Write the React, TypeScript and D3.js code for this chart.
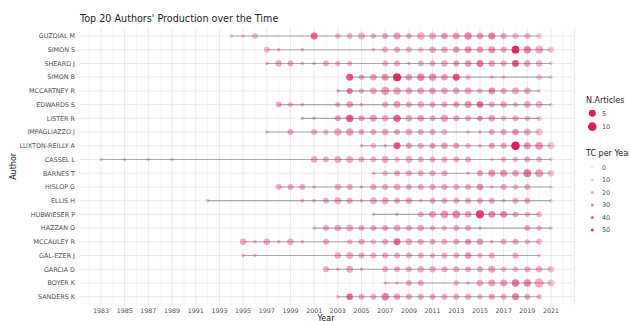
import React from "react";
import * as d3 from "d3";

// [year, articles, total citations per year]
type Rec = [number, number, number];

const authors = [
  "GUZDIAL M", "SIMON S", "SHEARD J", "SIMON B", "MCCARTNEY R", "EDWARDS S",
  "LISTER R", "IMPAGLIAZZO J", "LUXTON-REILLY A", "CASSEL L", "BARNES T",
  "HISLOP G", "ELLIS H", "HUBWIESER P", "HAZZAN O", "MCCAULEY R",
  "GAL-EZER J", "GARCIA D", "BOYER K", "SANDERS K",
];

const guzdialM: Rec[] = [[1994,1,11],[1995,1,11],[1996,3,11],[2001,5,35],[2003,2,14],[2004,3,14],[2005,5,14],[2006,2,14],[2007,3,17],[2008,5,21],[2009,2,17],[2010,6,17],[2011,5,17],[2012,4,20],[2013,5,20],[2014,6,26],[2015,4,21],[2016,5,28],[2017,3,17],[2018,3,14],[2019,3,14],[2020,3,7]];
const simonS: Rec[] = [[1997,3,14],[1998,1,14],[2000,1,14],[2006,1,14],[2007,3,14],[2008,3,17],[2009,3,14],[2010,2,11],[2011,4,17],[2012,4,17],[2013,4,20],[2014,5,23],[2015,4,20],[2016,5,23],[2017,3,17],[2018,7,54],[2019,6,28],[2020,8,17],[2021,4,8]];
const sheardJ: Rec[] = [[1997,1,14],[1998,4,17],[1999,3,17],[2000,1,14],[2001,1,14],[2002,3,17],[2003,2,14],[2004,2,14],[2007,3,14],[2008,3,17],[2009,1,14],[2010,3,17],[2011,3,17],[2012,4,17],[2013,3,20],[2014,4,23],[2015,5,31],[2016,4,20],[2017,3,17],[2018,5,40],[2019,4,20],[2020,4,14],[2021,1,8]];
const simonB: Rec[] = [[2004,5,40],[2005,2,20],[2006,4,20],[2007,5,23],[2008,8,52],[2009,4,20],[2010,6,28],[2011,6,23],[2012,4,20],[2013,5,42],[2014,2,11],[2016,1,11],[2017,1,11],[2020,2,11],[2021,1,8]];
const mccartneyR: Rec[] = [[2003,1,14],[2004,3,31],[2005,2,14],[2006,4,17],[2007,8,20],[2008,6,20],[2009,4,17],[2010,4,17],[2011,4,20],[2012,4,17],[2013,4,17],[2014,5,17],[2015,2,14],[2016,4,26],[2017,3,17],[2018,5,17],[2019,4,17],[2020,1,11]];
const edwardsS: Rec[] = [[1998,3,17],[1999,2,14],[2000,1,14],[2003,2,17],[2004,4,20],[2005,1,14],[2007,3,17],[2008,5,20],[2009,3,17],[2010,4,17],[2011,3,17],[2012,3,17],[2013,3,20],[2014,5,23],[2015,4,34],[2016,3,17],[2017,4,17],[2018,2,14],[2019,5,17],[2020,5,14],[2021,1,8]];
const listerR: Rec[] = [[2000,1,14],[2001,1,14],[2003,3,20],[2004,6,40],[2005,3,20],[2006,5,20],[2007,4,17],[2008,6,37],[2009,4,17],[2010,4,20],[2011,3,17],[2012,6,20],[2013,3,17],[2014,3,17],[2015,2,26],[2016,4,20],[2017,2,14],[2018,3,17],[2019,2,14],[2020,2,11]];
const impagliazzoJ: Rec[] = [[1997,1,14],[1999,3,17],[2001,3,17],[2002,2,14],[2003,6,17],[2004,6,20],[2005,3,17],[2006,3,17],[2007,4,17],[2008,3,17],[2009,4,17],[2010,3,17],[2011,3,17],[2012,3,14],[2014,1,14],[2015,1,14],[2016,3,17],[2017,3,17],[2018,4,23],[2019,5,17],[2020,5,11]];
const luxtonReillyA: Rec[] = [[2005,1,14],[2006,2,14],[2007,1,14],[2008,5,40],[2009,3,20],[2010,3,17],[2011,3,20],[2012,4,20],[2013,3,20],[2014,2,14],[2015,1,14],[2016,3,20],[2017,3,17],[2018,10,56],[2019,5,23],[2020,7,23],[2021,5,11]];
const casselL: Rec[] = [[1983,1,11],[1985,1,11],[1987,1,11],[1989,1,11],[2001,4,17],[2002,3,17],[2003,5,17],[2004,5,17],[2005,3,17],[2006,3,17],[2007,5,17],[2008,2,14],[2009,5,17],[2010,3,17],[2011,3,17],[2012,3,17],[2013,3,17],[2014,3,17],[2016,1,11],[2017,2,14],[2018,2,14],[2019,3,17],[2020,3,14],[2021,1,8]];
const barnesT: Rec[] = [[2006,1,14],[2007,2,14],[2008,3,17],[2009,3,17],[2010,3,17],[2011,3,17],[2012,3,17],[2014,1,14],[2015,3,20],[2016,5,23],[2017,5,23],[2018,4,20],[2019,7,31],[2020,8,20],[2021,4,11]];
const hislopG: Rec[] = [[1998,3,17],[1999,3,17],[2000,3,17],[2001,1,14],[2003,4,17],[2004,3,17],[2005,1,14],[2006,3,17],[2007,3,17],[2008,4,17],[2009,3,17],[2010,3,17],[2011,3,17],[2012,3,17],[2013,3,17],[2014,3,17],[2015,4,23],[2016,1,14],[2017,3,17],[2018,2,14],[2019,3,17],[2021,1,8]];
const ellisH: Rec[] = [[1992,1,11],[2000,1,14],[2001,1,14],[2002,3,17],[2003,5,17],[2004,3,17],[2005,1,14],[2006,5,17],[2007,5,17],[2008,3,17],[2009,4,17],[2010,1,14],[2011,3,17],[2012,3,17],[2013,3,17],[2014,3,17],[2015,3,17],[2016,3,17],[2017,1,14],[2018,3,17],[2019,3,17],[2021,1,8]];
const hubwieserP: Rec[] = [[2006,1,14],[2008,1,14],[2010,3,17],[2011,5,20],[2012,7,23],[2013,7,26],[2014,4,20],[2015,8,48],[2016,5,26],[2017,5,26],[2018,3,17],[2019,2,14],[2020,3,14]];
const hazzanO: Rec[] = [[2001,1,14],[2002,3,17],[2003,4,17],[2004,5,17],[2005,3,17],[2006,3,17],[2007,3,17],[2008,4,17],[2009,3,17],[2010,4,17],[2011,2,14],[2012,2,14],[2013,3,17],[2014,3,17],[2015,1,14],[2019,3,17],[2020,2,14],[2021,1,11]];
const mccauleyR: Rec[] = [[1995,4,17],[1996,1,14],[1997,4,17],[1998,1,14],[1999,4,17],[2000,1,14],[2002,3,17],[2004,2,14],[2005,3,17],[2006,2,14],[2007,3,17],[2008,5,34],[2009,4,17],[2010,3,17],[2011,3,17],[2012,3,17],[2013,3,17],[2014,3,23],[2015,4,20],[2016,1,14],[2017,3,17],[2018,3,17],[2019,2,14],[2020,3,14]];
const galEzerJ: Rec[] = [[1995,1,14],[1996,1,14],[2003,4,17],[2004,5,17],[2005,3,17],[2006,3,17],[2007,3,17],[2008,3,17],[2009,3,17],[2010,3,17],[2011,2,14],[2012,3,17],[2013,3,17],[2014,4,23],[2015,2,14],[2016,3,17],[2018,3,17],[2020,1,11]];
const garciaD: Rec[] = [[2002,3,17],[2003,1,14],[2004,5,17],[2005,1,14],[2007,3,17],[2008,3,17],[2009,3,17],[2010,4,17],[2011,4,17],[2012,3,17],[2013,3,17],[2014,3,17],[2015,3,17],[2016,5,20],[2017,2,14],[2018,2,14],[2019,3,17],[2020,4,17],[2021,4,11]];
const boyerK: Rec[] = [[2007,1,14],[2008,1,14],[2009,3,17],[2010,3,17],[2013,2,14],[2014,1,14],[2015,4,17],[2016,5,20],[2017,5,20],[2018,6,31],[2019,6,26],[2020,12,17],[2021,5,11]];
const sandersK: Rec[] = [[2003,1,14],[2004,4,34],[2005,3,17],[2006,3,17],[2007,6,28],[2008,4,20],[2009,3,17],[2010,3,17],[2011,3,17],[2012,3,17],[2013,3,17],[2014,3,17],[2015,2,14],[2016,3,20],[2017,3,17],[2018,5,28],[2019,3,17],[2020,2,14]];

const production: Rec[][] = [
  guzdialM, simonS, sheardJ, simonB, mccartneyR, edwardsS, listerR,
  impagliazzoJ, luxtonReillyA, casselL, barnesT, hislopG, ellisH,
  hubwieserP, hazzanO, mccauleyR, galEzerJ, garciaD, boyerK, sandersK,
];

const yearTicks = d3.range(1983, 2022, 2);
const articleBreaks = [5, 10];
const tcBreaks = [0, 10, 20, 30, 40, 50];

const W = 629;
const H = 321;
const FONT = "DejaVu Sans, Verdana, sans-serif";
const RED = "#E01F55";
const TXT = "#4d4d4d";

export default function App() {
  const x = d3.scaleLinear().domain([1981.1, 2022.9]).range([78.5, 573.5]);
  const y = d3.scalePoint<string>().domain(authors).range([36, 296.7]);
  const maxN = d3.max(production.flat(), (d) => d[1]) as number;
  const r = (n: number) => 1.8 + 2.8 * Math.sqrt(Math.max(0, n - 1) / (maxN - 1));
  const alpha = d3.scaleLinear().domain([0, 56]).range([0.1, 1]).clamp(true);
  const line = d3.line<Rec>().x((d) => x(d[0])).y(0);

  const panelTop = 27.8;
  const panelBottom = 305;
  const gridYears = d3.range(1982, 2024);

  return (
    <svg width={W} height={H} style={{ position: "absolute", left: 0, top: 0, background: "#fff" }} fontFamily={FONT}>
      {/* panel grid */}
      {gridYears.map((yr) => (
        <line key={"gx" + yr} x1={x(yr)} x2={x(yr)} y1={panelTop} y2={panelBottom}
          stroke={yr % 2 === 1 ? "#e6e6e6" : "#efefef"} strokeWidth={yr % 2 === 1 ? 0.8 : 0.5} />
      ))}
      {authors.map((a) => (
        <line key={"gy" + a} x1={78.5} x2={573.5} y1={y(a)} y2={y(a)} stroke="#e6e6e6" strokeWidth={0.8} />
      ))}

      {/* activity span per author */}
      {production.map((recs, i) => {
        const ends = d3.extent(recs, (d) => d[0]) as [number, number];
        return (
          <path key={"ln" + i} transform={`translate(0,${y(authors[i])})`}
            d={line([[ends[0], 0, 0], [ends[1], 0, 0]]) || ""}
            stroke="#9e9e9e" strokeWidth={1.1} fill="none" opacity={0.85} />
        );
      })}

      {/* yearly output */}
      {production.map((recs, i) =>
        recs.map((d) => (
          <circle key={`pt${i}-${d[0]}`} cx={x(d[0])} cy={y(authors[i])} r={r(d[1])}
            fill={RED} fillOpacity={alpha(d[2])} />
        ))
      )}

      {/* axes text */}
      {authors.map((a) => (
        <text key={"yl" + a} x={75} y={(y(a) as number) + 2.3} textAnchor="end" fontSize={6.4} fill={TXT}>{a}</text>
      ))}
      {yearTicks.map((t) => (
        <text key={"xl" + t} x={x(t)} y={313} textAnchor="middle" fontSize={6.3} fill={TXT}>{t}</text>
      ))}
      <text x={x(2002)} y={320.5} textAnchor="middle" fontSize={8} fill="#222">Year</text>
      <text transform={`translate(16,${(panelTop + panelBottom) / 2}) rotate(-90)`} textAnchor="middle" fontSize={8} fill="#222">Author</text>
      <text x={80} y={22} fontSize={9.6} fill="#222">Top 20 Authors' Production over the Time</text>

      {/* legend: articles */}
      <text x={586} y={103} fontSize={8} fill="#222">N.Articles</text>
      {articleBreaks.map((b, i) => (
        <g key={"la" + b}>
          <circle cx={592.3} cy={113.3 + i * 13.4} r={r(b)} fill={RED} />
          <text x={602} y={113.3 + i * 13.4 + 2.3} fontSize={6.4} fill={TXT}>{b}</text>
        </g>
      ))}

      {/* legend: citations per year */}
      <text x={586} y={155.5} fontSize={8} fill="#222">TC per Year</text>
      {tcBreaks.map((b, i) => (
        <g key={"lt" + b}>
          <circle cx={592.3} cy={167.3 + i * 12.54} r={1.5} fill={RED} fillOpacity={alpha(b)} />
          <text x={602} y={167.3 + i * 12.54 + 2.3} fontSize={6.4} fill={TXT}>{b}</text>
        </g>
      ))}
    </svg>
  );
}
